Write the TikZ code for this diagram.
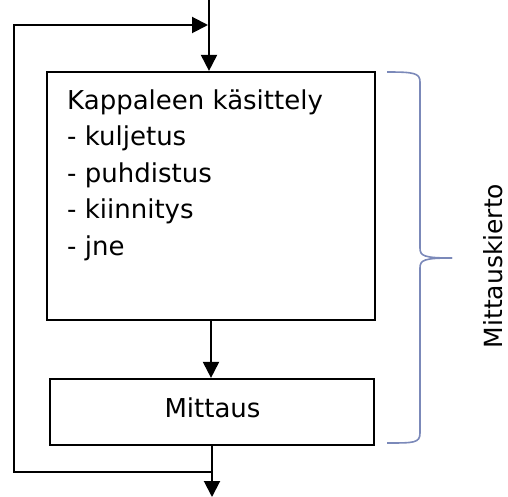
\documentclass[tikz,border=0pt]{standalone}
\usepackage{fontspec}
\setmainfont{DejaVu Sans}
\usetikzlibrary{arrows.meta}
\definecolor{bracec}{HTML}{7B89B9}
\begin{document}
\begin{tikzpicture}[x=1pt,y=-1pt,
  box/.style={draw=black,line width=2.2pt,inner sep=0pt,rectangle},
  conn/.style={line width=2pt,-{Triangle[length=16pt,width=16pt]}},
  bracecol/.style={draw=bracec,line width=1.6pt},
  txt/.style={inner sep=0pt,font=\fontsize{26}{36.5}\selectfont}]
\useasboundingbox (0,0) rectangle (508,497);
\node[box,minimum width=328pt,minimum height=248pt] (b1) at (211,196) {};
\node[box,minimum width=324pt,minimum height=66pt] (b2) at (212,412) {};
\node[txt,anchor=base west,align=left] (t1) at (67,255) {Kappaleen käsittely\\- kuljetus\\- puhdistus\\- kiinnitys\\- jne};
\node[txt,anchor=base] (t2) at (212.5,417) {Mittaus};
\node[inner sep=0pt,font=\fontsize{25}{30}\selectfont,rotate=90,anchor=base] (t3) at (502,266) {Mittauskierto};
\coordinate (top) at (209,0);
\coordinate (out) at (212,497);
\coordinate (m) at (212,472);
\coordinate (fbl) at (14,472);
\coordinate (fbt) at (14,25);
\coordinate (fbr) at (208,25);
\draw[conn] (top) -- (b1.north -| top);
\draw[conn] (b1.south) -- (b2.north -| b1.south);
\draw[conn] (b2.south) -- (out);
\draw[conn] (m) -- (fbl) -- (fbt) -- (fbr);
\draw[bracecol] (387,72) .. controls (414,72) and (420,73) .. (420,82) -- (420,248) .. controls (420,256) and (424,258) .. (452,258);
\draw[bracecol] (452,258) .. controls (424,258) and (420,260) .. (420,268) -- (420,433) .. controls (420,443) and (414,443) .. (387,443);
\end{tikzpicture}
\end{document}
